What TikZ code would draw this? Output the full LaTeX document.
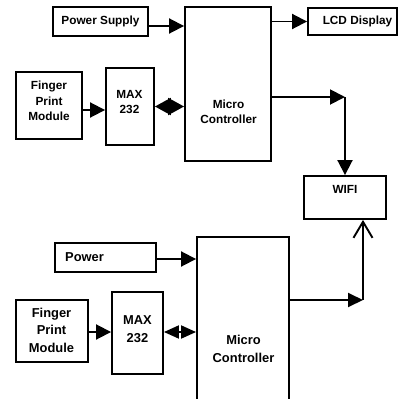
\documentclass[tikz,border=0pt]{standalone}
\usepackage{fontspec}
\setmainfont{Liberation Sans}
\usetikzlibrary{arrows.meta}
\begin{document}
\begin{tikzpicture}[x=1pt,y=-1pt,
  box/.style={draw, line width=1.9pt, inner sep=0pt},
  tA/.style={font=\fontsize{11.8}{15.5}\selectfont\bfseries, align=center, inner sep=0pt},
  tB/.style={font=\fontsize{12.9}{17.5}\selectfont\bfseries, align=center, inner sep=0pt},
  conn/.style={line width=1.9pt},
  tri/.style={-{Triangle[length=15pt,width=15pt]}},
  dia/.style={{Triangle[length=16pt,width=17pt]}-{Triangle[length=16pt,width=17pt]}},
  dbl/.style={{Triangle[length=15pt,width=13pt]}-{Triangle[length=15pt,width=13pt]}},
  barb/.style={-{Straight Barb[length=16pt,width=19pt]}},
]
\useasboundingbox (0,0) rectangle (398,399);
% ---------- top diagram ----------
\node[box, minimum width=95pt, minimum height=29pt, tA] (ps1) at (100.5,21.5) {Power Supply};
\node[box, minimum width=86pt, minimum height=154pt] (mc1) at (228,84) {};
\node[tA] (mc1t) at (228.5,112) {Micro\\Controller};
\node[box, minimum width=89pt, minimum height=27pt] (lcd) at (352.5,21.5) {};
\node[tA] (lcdt) at (357.5,21) {LCD Display};
\node[box, minimum width=66pt, minimum height=67pt] (fp1) at (49,105.5) {};
\node[tA] (fp1t) at (49,101) {Finger\\Print\\Module};
\node[box, minimum width=48pt, minimum height=77pt] (max1) at (130,106.5) {};
\node[tA] (max1t) at (129.5,102) {MAX\\232};
\node[box, minimum width=82pt, minimum height=43pt] (wifi) at (345,197.5) {};
\node[tA] (wifit) at (345,189.5) {WIFI};

\draw[conn,tri] ([yshift=-4.5pt]ps1.east) -- ([yshift=-4.5pt]ps1.east -| mc1.west);
\draw[conn,tri] (mc1.east |- lcd.west) -- (lcd.west);
\draw[conn,tri] ([yshift=-4.5pt]fp1.east) -- ([yshift=-4.5pt]fp1.east -| max1.west);
\draw[conn,dia] (max1.east) -- (max1.east -| mc1.west);
\coordinate (c1) at (345,97);
\draw[conn,tri] (mc1.east |- c1) -- (c1);
\draw[conn,tri] (c1) -- (wifi.north);

% ---------- bottom diagram ----------
\node[box, minimum width=101pt, minimum height=29pt] (ps2) at (105.5,257.5) {};
\node[tB, anchor=base west] (ps2t) at (65,261) {Power};
\node[box, minimum width=92pt, minimum height=223pt] (mc2) at (243,348.5) {};
\node[tB] (mc2t) at (243.5,349) {Micro\\Controller};
\node[box, minimum width=72pt, minimum height=62pt] (fp2) at (52,331) {};
\node[tB] (fp2t) at (51.5,330) {Finger\\Print\\Module};
\node[box, minimum width=51pt, minimum height=82pt] (max2) at (137.5,333) {};
\node[tB] (max2t) at (137.5,329) {MAX\\232};

\draw[conn,tri] ([yshift=-1.5pt]ps2.east) -- ([yshift=-1.5pt]ps2.east -| mc2.west);
\draw[conn,tri] ([yshift=-1pt]fp2.east) -- ([yshift=-1pt]fp2.east -| max2.west);
\draw[conn,dbl] ([yshift=1pt]max2.east) -- ([yshift=1pt]max2.east -| mc2.west);
\coordinate (c2) at (363,300);
\draw[conn,-{Triangle[length=15pt,width=14pt]}] (mc2.east |- c2) -- (c2);
\draw[conn,barb] (c2) -- (c2 |- wifi.south);
\end{tikzpicture}
\end{document}
